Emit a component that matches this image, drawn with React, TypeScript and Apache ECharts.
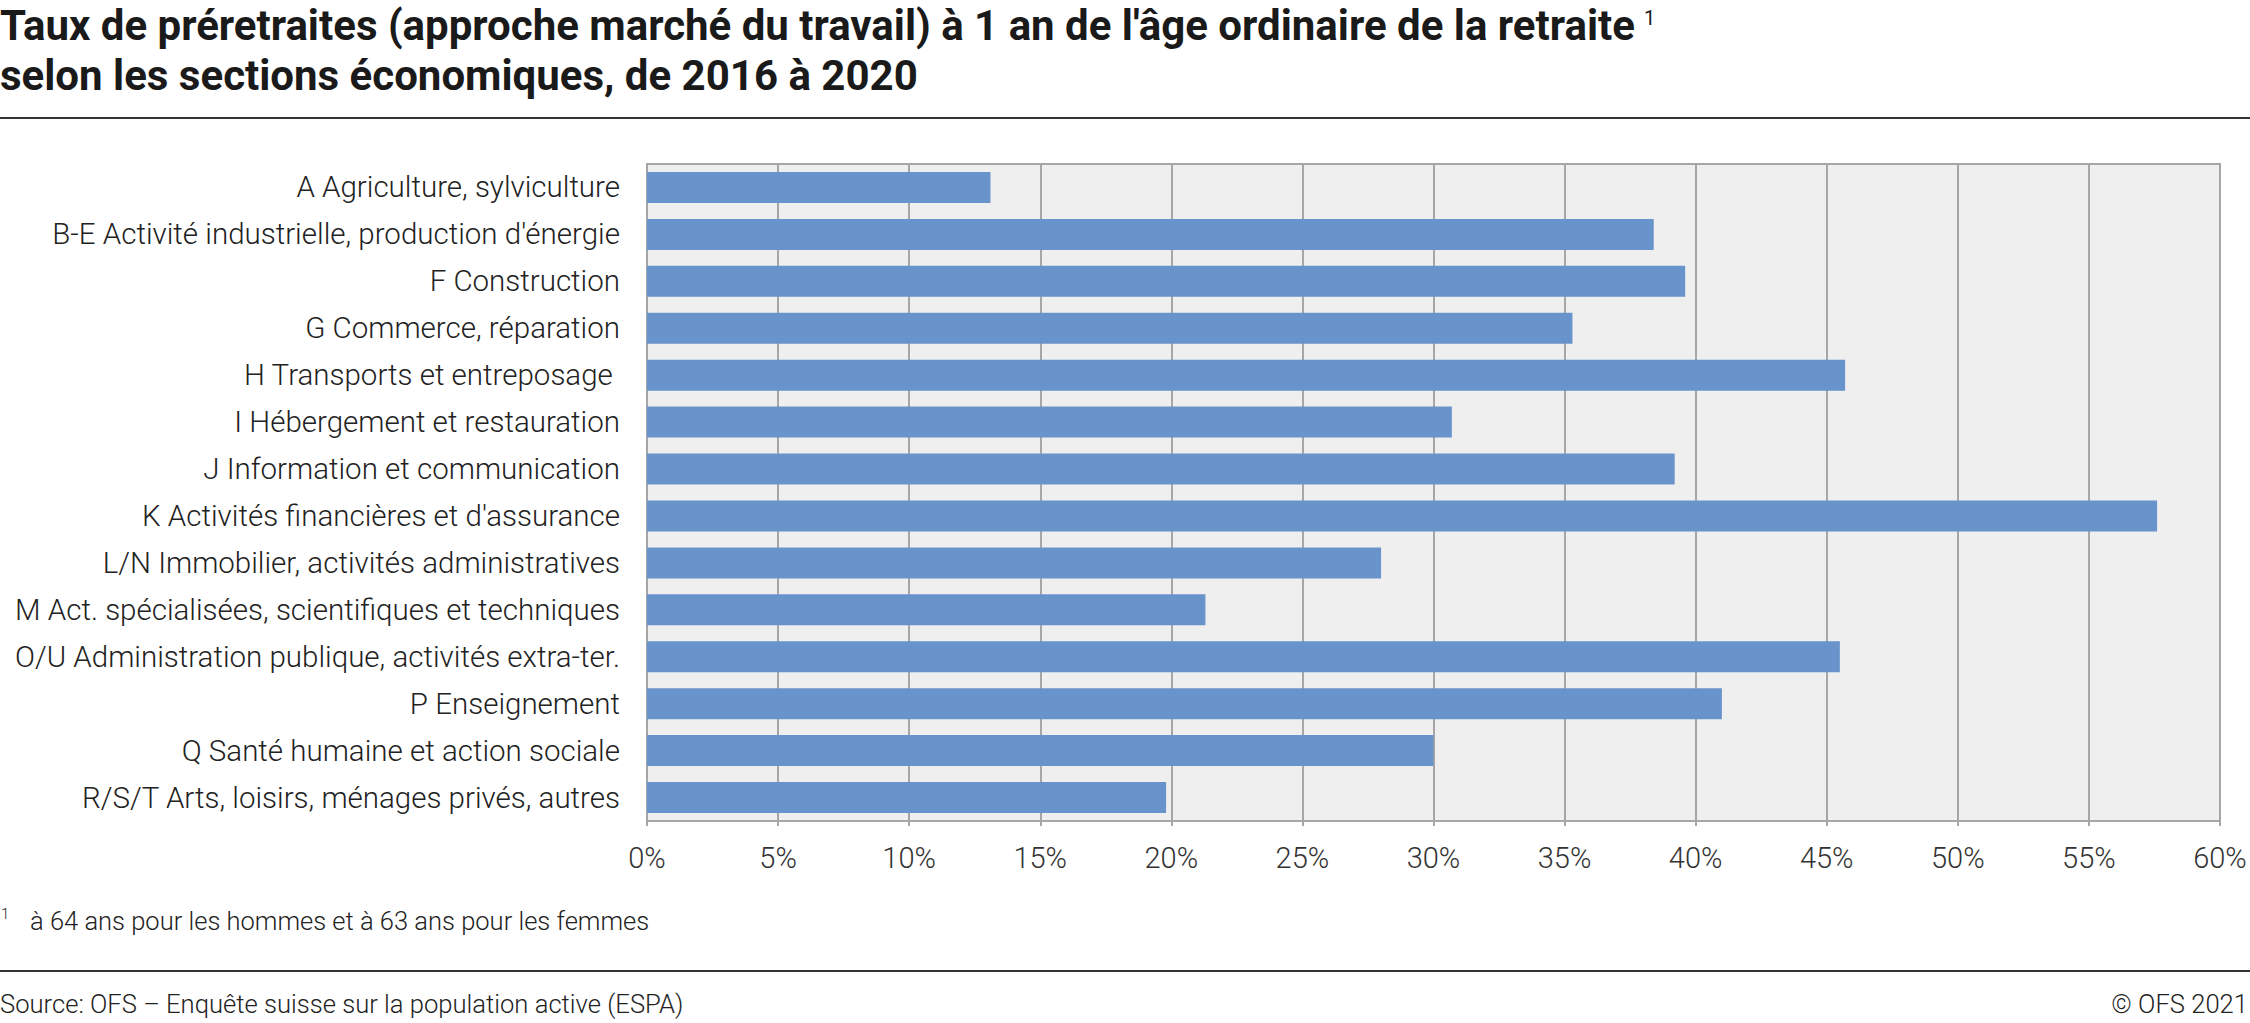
import React, { useEffect, useRef } from "react";
import * as echarts from "echarts";

const categories = [
  "A Agriculture, sylviculture",
  "B-E Activité industrielle, production d'énergie",
  "F Construction",
  "G Commerce, réparation",
  "H Transports et entreposage ",
  "I Hébergement et restauration",
  "J Information et communication",
  "K Activités financières et d'assurance",
  "L/N Immobilier, activités administratives",
  "M Act. spécialisées, scientifiques et techniques",
  "O/U Administration publique, activités extra-ter.",
  "P Enseignement",
  "Q Santé humaine et action sociale",
  "R/S/T Arts, loisirs, ménages privés, autres",
];

const values = [13.1, 38.4, 39.6, 35.3, 45.7, 30.7, 39.2, 57.6, 28.0, 21.3, 45.5, 41.0, 30.0, 19.8];

const xTicks = { min: 0, max: 60, interval: 5 };

const titleLine1 = "Taux de préretraites (approche marché du travail) à 1 an de l'âge ordinaire de la retraite";
const titleLine2 = "selon les sections économiques, de 2016 à 2020";
const footnote = "à 64 ans pour les hommes et à 63 ans pour les femmes";
const sourceText = "Source: OFS – Enquête suisse sur la population active (ESPA)";
const copyrightText = "© OFS 2021";

const FONT = "Roboto";
const GRID_COLOR = "#a6a6a6";
const TITLE_FONT_SIZE = 42;

function measure(text: string, font: string): number {
  try {
    const ctx = document.createElement("canvas").getContext("2d");
    if (ctx) {
      ctx.font = font;
      return ctx.measureText(text).width;
    }
  } catch (e) {
    /* ignore */
  }
  return text.length * TITLE_FONT_SIZE * 0.53;
}

export default function App() {
  const ref = useRef<HTMLDivElement>(null);

  useEffect(() => {
    document.body.style.margin = "0";
    if (!ref.current) return;
    const chart = echarts.init(ref.current, undefined, { renderer: "svg" });
    const titleW = measure(titleLine1, `bold ${TITLE_FONT_SIZE}px ${FONT}`);
    chart.setOption({
      animation: false,
      backgroundColor: "#ffffff",
      textStyle: { fontFamily: FONT },
      grid: {
        left: 647,
        right: 30,
        top: 164,
        bottom: 202,
        show: true,
        backgroundColor: "#efefef",
        borderColor: GRID_COLOR,
        borderWidth: 2,
      },
      xAxis: {
        type: "value",
        min: xTicks.min,
        max: xTicks.max,
        interval: xTicks.interval,
        axisLine: { show: true, lineStyle: { color: GRID_COLOR, width: 2 } },
        axisTick: { show: true, length: 5, lineStyle: { color: GRID_COLOR, width: 2 } },
        splitLine: { show: true, lineStyle: { color: GRID_COLOR, width: 2 } },
        axisLabel: {
          formatter: "{value}%",
          fontFamily: FONT,
          fontWeight: 300,
          fontSize: 29,
          color: "#333333",
          margin: 22,
        },
      },
      yAxis: {
        type: "category",
        data: categories,
        inverse: true,
        axisLine: { show: true, lineStyle: { color: GRID_COLOR, width: 2 } },
        axisTick: { show: false },
        splitLine: { show: false },
        axisLabel: {
          fontFamily: FONT,
          fontWeight: 300,
          fontSize: 29.5,
          color: "#222222",
          margin: 27,
        },
      },
      series: [
        {
          type: "bar",
          data: values,
          barCategoryGap: "34%",
          itemStyle: { color: "#6993cb" },
          silent: true,
        },
      ],
      graphic: [
        {
          type: "text",
          x: 0,
          y: 0,
          style: {
            text: `${titleLine1}\n${titleLine2}`,
            fontFamily: FONT,
            fontSize: TITLE_FONT_SIZE,
            fontWeight: "bold",
            lineHeight: 50,
            fill: "#1a1a1a",
          },
        },
        {
          type: "text",
          x: titleW + 9,
          y: 8,
          style: { text: "1", fontFamily: FONT, fontSize: 20, fontWeight: "normal", fill: "#1a1a1a" },
        },
        {
          type: "line",
          shape: { x1: 0, y1: 118, x2: 2250, y2: 118 },
          style: { stroke: "#333333", lineWidth: 2 },
        },
        {
          type: "text",
          x: 1,
          y: 906,
          style: { text: "1", fontFamily: FONT, fontWeight: 300, fontSize: 15, fill: "#222222" },
        },
        {
          type: "text",
          x: 30,
          y: 921,
          style: { text: footnote, fontFamily: FONT, fontWeight: 300, fontSize: 25.5, fill: "#222222", verticalAlign: "middle" },
        },
        {
          type: "line",
          shape: { x1: 0, y1: 971, x2: 2250, y2: 971 },
          style: { stroke: "#333333", lineWidth: 2 },
        },
        {
          type: "text",
          x: 0,
          y: 1004,
          style: { text: sourceText, fontFamily: FONT, fontWeight: 300, fontSize: 25.6, fill: "#222222", verticalAlign: "middle" },
        },
        {
          type: "text",
          x: 2248,
          y: 1004,
          style: { text: copyrightText, fontFamily: FONT, fontWeight: 300, fontSize: 25.6, fill: "#222222", align: "right", verticalAlign: "middle" },
        },
      ],
    });
    return () => chart.dispose();
  }, []);

  return <div ref={ref} style={{ width: 2250, height: 1023 }} />;
}
